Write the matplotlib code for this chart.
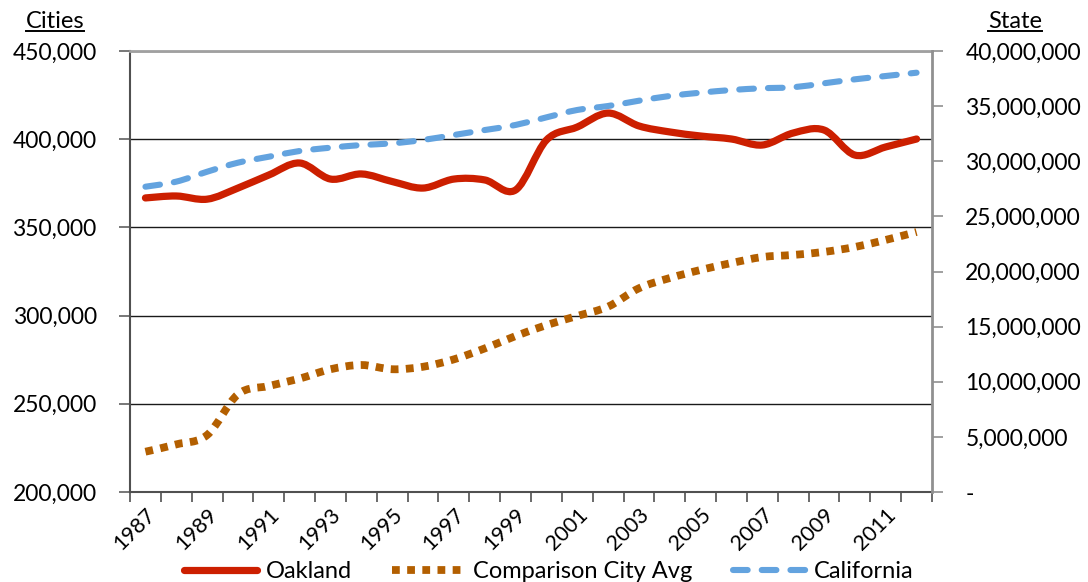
import matplotlib
matplotlib.use("Agg")
import matplotlib.pyplot as plt
from matplotlib.path import Path
from matplotlib.patches import PathPatch
from matplotlib.lines import Line2D
from matplotlib.ticker import FuncFormatter, FixedLocator
import numpy as np

plt.rcParams['font.family'] = ['Lato', 'DejaVu Sans']

years = list(range(1987, 2013))
oakland = [366700, 367800, 366000, 372300, 379700, 386500, 377400, 380300, 376000,
           372300, 377400, 376900, 371200, 399500, 406900, 414800, 407500, 404100,
           401800, 400100, 396700, 403500, 405200, 391000, 395600, 400100]
comparison = [222850, 227000, 232300, 255400, 260100, 264300, 269600, 272000, 269600,
              271000, 275200, 281400, 288400, 294600, 299800, 305100, 315500, 321300,
              325900, 329800, 333200, 334400, 336100, 338900, 342900, 347400]
california = [27.69e6, 28.15e6, 29.05e6, 29.87e6, 30.41e6, 30.93e6, 31.23e6, 31.47e6,
              31.62e6, 31.93e6, 32.38e6, 32.83e6, 33.29e6, 33.98e6, 34.65e6, 35.01e6,
              35.49e6, 35.92e6, 36.22e6, 36.46e6, 36.62e6, 36.71e6, 37.07e6, 37.43e6,
              37.73e6, 38.03e6]
labels = ['Oakland', 'Comparison City Avg', 'California']

C_OAK = '#cc1f00'
C_CMP = '#b35f00'
C_CA = '#63a3df'


def smooth_path(xs, ys):
    xs = np.asarray(xs, float)
    ys = np.asarray(ys, float)
    pts = np.column_stack([xs, ys])
    n = len(pts)
    verts = [pts[0]]
    codes = [Path.MOVETO]
    for i in range(n - 1):
        p0 = pts[i - 1] if i > 0 else pts[i]
        p1 = pts[i]
        p2 = pts[i + 1]
        p3 = pts[i + 2] if i + 2 < n else pts[i + 1]
        c1 = p1 + (p2 - p0) / 6.0
        c2 = p2 - (p3 - p1) / 6.0
        verts += [c1, c2, p2]
        codes += [Path.CURVE4] * 3
    return Path(verts, codes)


fig = plt.figure(figsize=(10.88, 5.82), dpi=100)
ax = fig.add_axes([0.1195, 0.1546, 0.7371, 0.7578])
ax2 = ax.twinx()

x = np.arange(len(years))

lw_oak, lw_cmp, lw_ca = 5.2, 5.6, 4.4
ls_cmp = (0, (1.0, 0.95))
ls_ca = (0, (2.4, 2.3))

ax.add_patch(PathPatch(smooth_path(x, comparison), facecolor='none', edgecolor=C_CMP,
                       lw=lw_cmp, linestyle=ls_cmp, capstyle='butt', zorder=3))
ax.add_patch(PathPatch(smooth_path(x, oakland), facecolor='none', edgecolor=C_OAK,
                       lw=lw_oak, capstyle='round', joinstyle='round', zorder=4))
ax2.add_patch(PathPatch(smooth_path(x, california), facecolor='none', edgecolor=C_CA,
                        lw=lw_ca, linestyle=ls_ca, capstyle='round', zorder=3))

ax.set_xlim(-0.5, len(years) - 0.5)
ax.set_ylim(200000, 450000)
ax2.set_ylim(0, 40000000)

# gridlines
ax.set_yticks(np.arange(200000, 450001, 50000))
ax.yaxis.grid(True, color='#1a1a1a', lw=1.0)
ax.set_axisbelow(True)
ax.yaxis.set_major_formatter(FuncFormatter(lambda v, p: f'{int(v):,}'))
ax.tick_params(axis='y', direction='out', length=8, width=1.2, color='#606060',
               labelsize=16.5, pad=16, labelcolor='black')

ax2.set_yticks(np.arange(0, 40000001, 5000000))
ax2.yaxis.set_major_formatter(FuncFormatter(lambda v, p: '-' if v == 0 else f'{int(v):,}'))
ax2.tick_params(axis='y', direction='out', length=8, width=1.2, color='#909090',
                labelsize=16.5, pad=16, labelcolor='black')
for lbl in ax2.get_yticklabels():
    lbl.set_horizontalalignment('left')

# x axis: ticks at category boundaries, labels at odd-year centers
ax.xaxis.set_major_locator(FixedLocator(np.arange(-0.5, len(years), 1.0)))
ax.xaxis.set_major_formatter(FuncFormatter(lambda v, p: ''))
ax.tick_params(axis='x', which='major', direction='out', length=7, width=1.2, color='#505050')
lab_pos = [i for i, yv in enumerate(years) if yv % 2 == 1]
ax.xaxis.set_minor_locator(FixedLocator(lab_pos))
ax.set_xticklabels([str(years[i]) for i in lab_pos], minor=True)
ax.tick_params(axis='x', which='minor', length=0, labelsize=15.5, pad=9)
for lbl in ax.get_xticklabels(minor=True):
    lbl.set_rotation(45)
    lbl.set_ha('right')
    lbl.set_va('top')
    lbl.set_rotation_mode('anchor')

for sp in ['left', 'bottom']:
    ax.spines[sp].set_color('#505050')
    ax.spines[sp].set_linewidth(1.5)
ax.spines['top'].set_color('#a0a0a0')
ax.spines['top'].set_linewidth(2)
ax.spines['right'].set_visible(False)
for sp in ['left', 'top', 'bottom']:
    ax2.spines[sp].set_visible(False)
ax2.spines['right'].set_color('#909090')
ax2.spines['right'].set_linewidth(2)

# legend
handles = [Line2D([], [], color=C_OAK, lw=lw_oak, solid_capstyle='round'),
           Line2D([], [], color=C_CMP, lw=lw_cmp, linestyle=ls_cmp, dash_capstyle='butt'),
           Line2D([], [], color=C_CA, lw=lw_ca, linestyle=ls_ca, dash_capstyle='round')]
fig.legend(handles, labels, loc='center', bbox_to_anchor=(0.5046, 10 / 582), ncol=3,
           frameon=False, fontsize=17, handlelength=3.1, columnspacing=1.7,
           handletextpad=0.35, borderpad=0, borderaxespad=0)

# underlined axis headings
t1 = fig.text(55 / 1088, 1 - 21 / 582, 'Cities', ha='center', va='center', fontsize=17)
t2 = fig.text(1015 / 1088, 1 - 21 / 582, 'State', ha='center', va='center', fontsize=17)
fig.canvas.draw()
r = fig.canvas.get_renderer()
for t in (t1, t2):
    bb = t.get_window_extent(r).transformed(fig.transFigure.inverted())
    fig.add_artist(Line2D([bb.x0, bb.x1], [bb.y0 + 0.001, bb.y0 + 0.001],
                          transform=fig.transFigure, color='black', lw=1.4))

fig.savefig('out.png', dpi=100)
